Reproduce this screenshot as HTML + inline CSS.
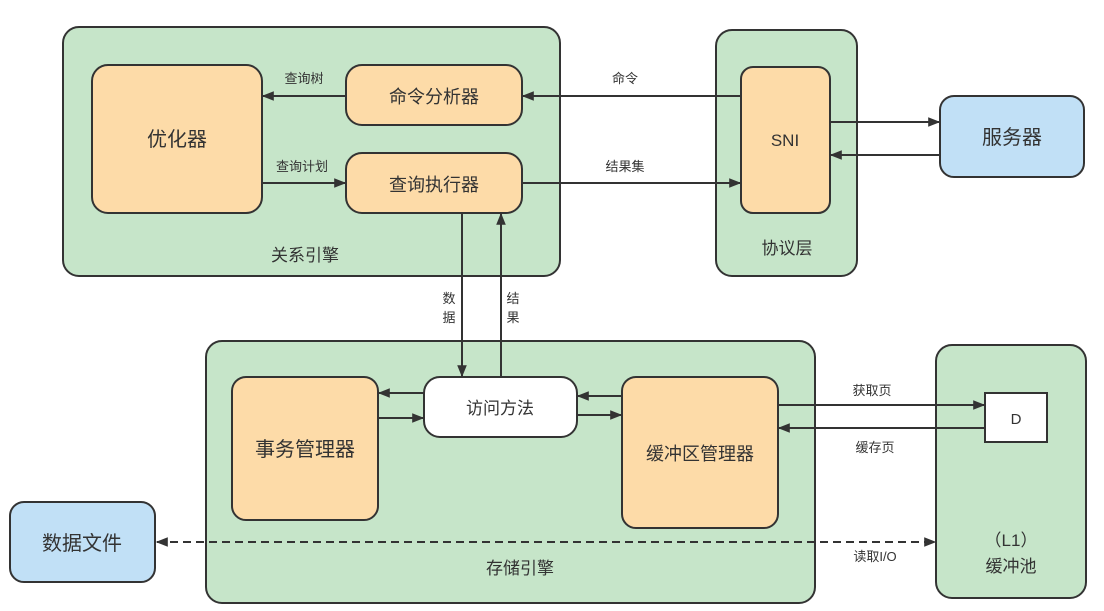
<!DOCTYPE html>
<html><head><meta charset="utf-8"><style>
body{margin:0;background:#fff;width:1104px;height:606px;overflow:hidden}
svg text{font-family:"Liberation Sans","Noto Sans CJK SC",sans-serif;fill:#333}
</style></head><body>
<svg width="1104" height="606" viewBox="0 0 1104 606" xmlns="http://www.w3.org/2000/svg">
<defs>
<marker id="a" viewBox="0 0 10 10" refX="9" refY="5" markerWidth="7" markerHeight="7" orient="auto-start-reverse" markerUnits="userSpaceOnUse"><path d="M0,0L10,5L0,10z" fill="#333"/></marker>
<marker id="b" viewBox="0 0 10 10" refX="9" refY="5" markerWidth="12" markerHeight="12" orient="auto-start-reverse" markerUnits="userSpaceOnUse"><path d="M0,1L10,5L0,9z" fill="#333"/></marker>
</defs>
<g stroke="#333" stroke-width="2">
<rect x="63" y="27" width="497" height="249" rx="16" fill="#c6e5c9"/>
<rect x="716" y="30" width="141" height="246" rx="16" fill="#c6e5c9"/>
<rect x="206" y="341" width="609" height="262" rx="16" fill="#c6e5c9"/>
<rect x="936" y="345" width="150" height="253" rx="16" fill="#c6e5c9"/>
<rect x="92" y="65" width="170" height="148" rx="16" fill="#fddba8"/>
<rect x="346" y="65" width="176" height="60" rx="16" fill="#fddba8"/>
<rect x="346" y="153" width="176" height="60" rx="16" fill="#fddba8"/>
<rect x="741" y="67" width="89" height="146" rx="12" fill="#fddba8"/>
<rect x="940" y="96" width="144" height="81" rx="14" fill="#c1e0f6"/>
<rect x="232" y="377" width="146" height="143" rx="14" fill="#fddba8"/>
<rect x="424" y="377" width="153" height="60" rx="16" fill="#fff"/>
<rect x="622" y="377" width="156" height="151" rx="14" fill="#fddba8"/>
<rect x="985" y="393" width="62" height="49" fill="#fff"/>
<rect x="10" y="502" width="145" height="80" rx="14" fill="#c1e0f6"/>
</g>
<g stroke="#333" stroke-width="2" fill="none">
<line x1="741" y1="96" x2="523" y2="96" marker-end="url(#b)"/>
<line x1="522" y1="183" x2="740" y2="183" marker-end="url(#b)"/>
<line x1="346" y1="96" x2="263" y2="96" marker-end="url(#b)"/>
<line x1="262" y1="183" x2="345" y2="183" marker-end="url(#b)"/>
<line x1="830" y1="122" x2="939" y2="122" marker-end="url(#b)"/>
<line x1="940" y1="155" x2="831" y2="155" marker-end="url(#b)"/>
<line x1="462" y1="213" x2="462" y2="376" marker-end="url(#b)"/>
<line x1="501" y1="377" x2="501" y2="214" marker-end="url(#b)"/>
<line x1="424" y1="393" x2="379" y2="393" marker-end="url(#b)"/>
<line x1="378" y1="418" x2="423" y2="418" marker-end="url(#b)"/>
<line x1="622" y1="396" x2="578" y2="396" marker-end="url(#b)"/>
<line x1="577" y1="415" x2="621" y2="415" marker-end="url(#b)"/>
<line x1="778" y1="405" x2="984" y2="405" marker-end="url(#b)"/>
<line x1="985" y1="428" x2="779" y2="428" marker-end="url(#b)"/>
<line x1="157" y1="542" x2="935" y2="542" stroke-dasharray="8,5" marker-start="url(#b)" marker-end="url(#b)"/>
</g>
<g font-size="20" text-anchor="middle">
<text x="177" y="146">优化器</text>
<text x="434" y="103" font-size="18">命令分析器</text>
<text x="434" y="191" font-size="18">查询执行器</text>
<text x="785" y="146" font-size="17">SNI</text>
<text x="1012" y="144">服务器</text>
<text x="305" y="261" font-size="17">关系引擎</text>
<text x="787" y="254" font-size="17">协议层</text>
<text x="305" y="456">事务管理器</text>
<text x="500" y="414" font-size="17">访问方法</text>
<text x="700" y="460" font-size="18">缓冲区管理器</text>
<text x="1016" y="424" font-size="15">D</text>
<text x="82" y="550">数据文件</text>
<text x="520" y="574" font-size="17">存储引擎</text>
<text x="1011" y="546" font-size="17">（L1）</text>
<text x="1011" y="572" font-size="17">缓冲池</text>
</g>
<g font-size="13" text-anchor="middle">
<text x="304" y="83">查询树</text>
<text x="302" y="171">查询计划</text>
<text x="625" y="83">命令</text>
<text x="625" y="171">结果集</text>
<text x="449" y="303">数</text><text x="449" y="322">据</text>
<text x="513" y="303">结</text><text x="513" y="322">果</text>
<text x="872" y="395">获取页</text>
<text x="875" y="452">缓存页</text>
<text x="875" y="561">读取I/O</text>
</g>
</svg>
</body></html>
